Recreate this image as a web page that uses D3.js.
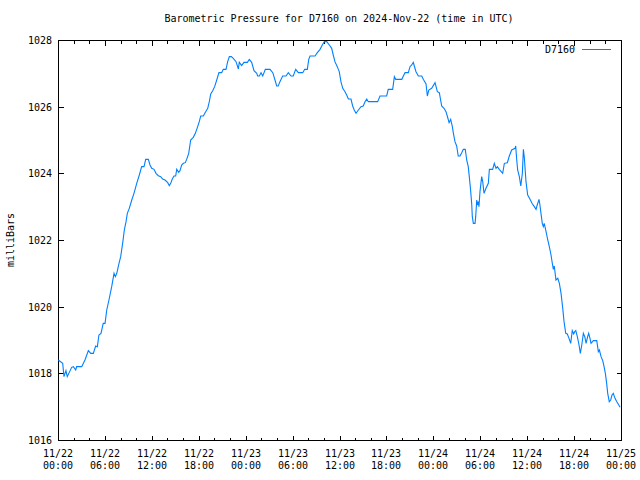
<!DOCTYPE html>
<html><head><meta charset="utf-8">
<script src="https://cdn.jsdelivr.net/npm/d3@7"></script>
<style>
body{margin:0;background:#fff}
svg{display:block}
text{font-family:"DejaVu Sans Mono",monospace;font-size:10px;fill:#000}
</style>
</head><body><svg width="640" height="480"></svg>
<script>
const chartTitle = "Barometric Pressure for D7160 on 2024-Nov-22 (time in UTC)";
const yAxisLabel = "milliBars";
const seriesName = "D7160";
const startTime = "2024-11-22T00:00:00Z";
const endTime = "2024-11-25T00:00:00Z";
const yTickValues = [1016, 1018, 1020, 1022, 1024, 1026, 1028];

// hours since 2024-11-22 00:00 UTC
const hoursSinceStart = [
0.04,0.60,0.77,1.02,1.19,1.75,1.96,2.26,2.39,3.03,3.45,3.88,4.18,4.51,4.82,5.03,5.24,5.50,5.79,6.01,
6.23,6.52,6.87,7.16,7.33,7.51,7.80,8.02,8.27,8.48,8.70,8.86,9.12,9.43,9.72,10.07,10.40,10.70,11.00,11.22,
11.55,11.77,11.98,12.28,12.53,12.83,13.13,13.39,13.68,14.03,14.23,14.41,14.62,14.84,15.05,15.18,15.44,15.60,15.82,16.03,
16.28,16.50,16.72,16.97,17.30,17.56,17.82,18.07,18.25,18.58,18.89,19.15,19.35,19.53,19.78,20.04,20.30,20.59,20.94,21.14,
21.49,21.70,21.91,22.16,22.42,22.76,23.06,23.19,23.49,23.79,24.21,24.47,24.77,25.07,25.41,25.54,25.75,25.96,26.18,26.51,
27.11,27.46,27.75,27.97,28.17,28.39,28.74,29.16,29.45,29.80,30.09,30.40,30.73,31.30,31.55,31.88,32.06,32.23,32.87,33.16,
33.51,33.80,34.06,34.36,34.70,35.00,35.20,35.42,35.71,35.97,36.19,36.41,36.70,36.92,37.13,37.47,37.68,37.89,38.11,38.41,
38.75,39.04,39.26,39.48,39.68,40.88,41.18,42.04,42.24,42.80,43.01,43.19,43.96,44.16,44.38,44.80,45.02,45.24,45.44,45.57,
45.79,46.08,46.52,46.72,47.06,47.23,47.41,47.79,48.21,48.51,48.76,49.07,49.37,49.62,49.79,50.01,50.22,50.43,50.56,50.77,
50.99,51.19,51.41,51.63,51.83,52.09,52.27,52.47,52.60,52.78,52.91,52.99,53.11,53.33,53.42,53.55,53.63,53.75,53.84,53.97,
54.19,54.31,54.48,54.74,55.03,55.16,55.59,55.80,56.02,56.18,56.44,56.87,57.08,57.46,57.72,58.02,58.45,58.54,58.66,58.79,
59.00,59.18,59.38,59.51,59.64,59.85,60.07,60.36,60.62,60.91,61.13,61.29,61.51,61.64,61.77,61.94,62.07,62.19,62.41,62.63,
62.83,63.05,63.22,63.35,63.47,63.69,63.91,64.11,64.33,64.55,64.72,64.93,65.13,65.35,65.57,65.77,65.95,66.08,66.21,66.41,
66.63,66.80,66.98,67.18,67.36,67.53,67.74,67.87,68.04,68.17,68.46,68.90,69.10,69.23,69.45,69.66,69.83,70.00,70.17,70.30,
70.50,70.68,70.85,71.01,71.24,71.46,71.71,71.88
];
const pressureMb = [
1018.4,1018.3,1017.9,1018.08,1017.9,1018.18,1018.2,1018.1,1018.2,1018.2,1018.4,1018.68,1018.6,1018.6,1018.82,1018.8,1019.15,1019.2,1019.5,1019.5,
1019.9,1020.2,1020.6,1021.0,1020.9,1021.0,1021.3,1021.5,1021.9,1022.3,1022.55,1022.8,1022.95,1023.2,1023.4,1023.7,1023.95,1024.2,1024.2,1024.42,
1024.42,1024.25,1024.15,1024.12,1024.0,1023.93,1023.9,1023.83,1023.8,1023.72,1023.63,1023.7,1023.83,1023.92,1023.92,1024.12,1024.03,1024.08,1024.25,1024.3,
1024.32,1024.45,1024.6,1025.0,1025.08,1025.2,1025.37,1025.55,1025.72,1025.72,1025.85,1025.95,1026.15,1026.38,1026.48,1026.6,1026.8,1027.02,1027.02,1027.12,
1027.12,1027.35,1027.5,1027.5,1027.45,1027.35,1027.13,1027.33,1027.23,1027.33,1027.33,1027.42,1027.33,1027.08,1027.0,1026.92,1026.92,1027.02,1026.92,1027.12,
1027.12,1027.02,1026.8,1026.62,1026.62,1026.75,1026.92,1026.92,1027.02,1026.92,1026.92,1027.12,1027.02,1027.02,1027.12,1027.12,1027.42,1027.52,1027.52,1027.62,
1027.72,1027.85,1027.95,1027.95,1027.85,1027.75,1027.55,1027.35,1027.2,1027.05,1026.75,1026.55,1026.45,1026.35,1026.23,1026.23,1026.02,1025.9,1025.8,1025.9,
1026.0,1026.02,1026.15,1026.23,1026.15,1026.15,1026.32,1026.32,1026.52,1026.52,1026.9,1026.82,1026.82,1026.92,1027.02,1027.02,1027.2,1027.25,1027.33,1027.22,
1027.05,1026.92,1026.92,1026.82,1026.68,1026.32,1026.5,1026.55,1026.72,1026.45,1026.42,1026.02,1025.95,1025.85,1025.72,1025.52,1025.62,1025.4,1025.2,1024.95,
1024.82,1024.52,1024.52,1024.62,1024.72,1024.72,1024.4,1024.2,1023.9,1023.45,1023.05,1022.7,1022.5,1022.5,1022.7,1023.2,1023.05,1023.15,1023.0,1023.45,
1023.9,1023.75,1023.4,1023.55,1023.7,1024.12,1024.12,1024.3,1024.15,1024.2,1024.12,1024.0,1024.3,1024.32,1024.52,1024.7,1024.75,1024.82,1024.4,1024.1,
1023.9,1023.62,1024.0,1024.72,1024.48,1023.75,1023.35,1023.22,1023.1,1023.0,1022.92,1023.05,1023.22,1023.05,1022.8,1022.5,1022.4,1022.5,1022.25,1022.0,
1021.8,1021.55,1021.3,1021.12,1021.22,1020.8,1020.85,1020.7,1020.4,1019.95,1019.55,1019.2,1019.18,1019.05,1018.9,1019.28,1019.18,1019.25,1019.28,1019.1,
1018.85,1018.6,1018.85,1019.2,1019.1,1018.9,1019.1,1019.2,1019.05,1018.9,1018.98,1018.98,1018.65,1018.7,1018.5,1018.38,1018.2,1018.0,1017.7,1017.4,
1017.15,1017.2,1017.35,1017.4,1017.25,1017.15,1017.05,1016.98
];

const svg = d3.select("svg");
const L = 58, R = 621, T = 40, B = 440;
const t0 = new Date(startTime), t1 = new Date(endTime);
const x = d3.scaleUtc().domain([t0, t1]).range([L, R]);
const y = d3.scaleLinear().domain([1016, 1028]).range([B, T]);

const data = hoursSinceStart.map((h, i) => ({t: d3.utcMinute.offset(t0, Math.round(h * 60)), p: pressureMb[i]}));

// title
svg.append("text").attr("x", 339).attr("y", 22).attr("text-anchor", "middle").text(chartTitle);

// y label
svg.append("text").attr("transform", "translate(14,240) rotate(-90)").attr("text-anchor", "middle").text(yAxisLabel);

const g = svg.append("g").attr("transform", "translate(0.5,0.5)");

// ticks
const xTicks = x.ticks(d3.utcHour.every(2));
xTicks.forEach(d => {
  const major = d.getUTCHours() % 6 === 0;
  const len = major ? 5 : 3;
  const xp = Math.round(x(d));
  g.append("line").attr("x1", xp).attr("x2", xp).attr("y1", B).attr("y2", B - len).attr("stroke", "#000").attr("shape-rendering", "crispEdges");
  g.append("line").attr("x1", xp).attr("x2", xp).attr("y1", T).attr("y2", T + len).attr("stroke", "#000").attr("shape-rendering", "crispEdges");
});
yTickValues.forEach(v => {
  const yp = Math.round(y(v));
  g.append("line").attr("x1", L).attr("x2", L + 5).attr("y1", yp).attr("y2", yp).attr("stroke", "#000").attr("shape-rendering", "crispEdges");
  g.append("line").attr("x1", R).attr("x2", R - 5).attr("y1", yp).attr("y2", yp).attr("stroke", "#000").attr("shape-rendering", "crispEdges");
  svg.append("text").attr("x", 52).attr("y", yp + 4).attr("text-anchor", "end").text(v);
});

// x labels
const fmtDate = d3.utcFormat("%m/%d"), fmtTime = d3.utcFormat("%H:%M");
x.ticks(d3.utcHour.every(6)).forEach(d => {
  const xp = Math.round(x(d));
  const t = svg.append("text").attr("text-anchor", "middle");
  t.append("tspan").attr("x", xp).attr("y", 457).text(fmtDate(d));
  t.append("tspan").attr("x", xp).attr("y", 469).text(fmtTime(d));
});

// line
const line = d3.line().x(d => x(d.t)).y(d => y(d.p));
svg.append("path").datum(data).attr("d", line).attr("fill", "none").attr("stroke", "#0080ff").attr("stroke-width", 1.1);

// frame
g.append("rect").attr("x", L).attr("y", T).attr("width", R - L).attr("height", B - T).attr("fill", "none").attr("stroke", "#000").attr("shape-rendering", "crispEdges");

// legend
svg.append("text").attr("x", 575).attr("y", 53).attr("text-anchor", "end").text(seriesName);
g.append("line").attr("x1", 581).attr("x2", 610).attr("y1", 49).attr("y2", 49).attr("stroke", "#0080ff").attr("shape-rendering", "crispEdges");
</script>
</body></html>
